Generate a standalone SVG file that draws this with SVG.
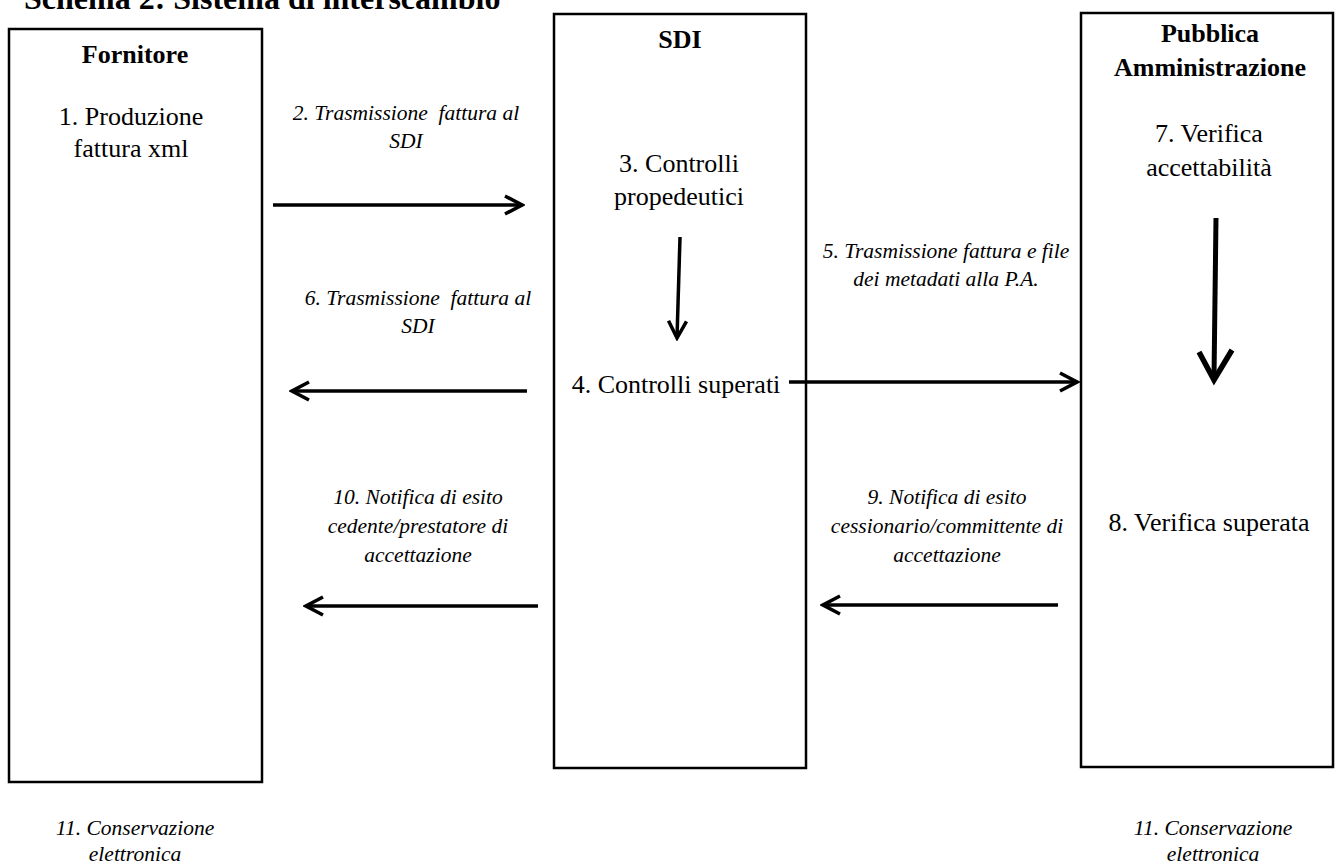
<svg xmlns="http://www.w3.org/2000/svg" width="1340" height="865" viewBox="0 0 1340 865">
<style>
  .box{fill:#fff;stroke:#000;stroke-width:2.5}
  .t{font-family:"Liberation Serif","Times New Roman",serif;fill:#000;text-anchor:middle}
  .b{font-weight:bold;font-size:26px}
  .r{font-size:26px}
  .i{font-style:italic;font-size:21.5px}
  .ln{stroke:#000;stroke-width:3.5;fill:none}
</style>
<defs>
  <marker id="chev" viewBox="0 0 22 22" markerWidth="22" markerHeight="22" refX="19" refY="11" orient="auto" markerUnits="userSpaceOnUse">
    <path d="M2,2 L19,11 L2,20" fill="none" stroke="#000" stroke-width="3.5"/>
  </marker>
</defs>
<rect width="1340" height="865" fill="#fff"/>
<text id="title" class="t b" x="24" y="9" style="text-anchor:start;font-size:32px">Schema 2: Sistema di interscambio</text>

<g id="fornitore">
  <rect class="box" x="9" y="29" width="253" height="753"/>
  <text class="t b" x="135" y="63">Fornitore</text>
  <text class="t r" x="131" y="125">1. Produzione</text>
  <text class="t r" x="131" y="157">fattura xml</text>
</g>
<g id="sdi">
  <rect class="box" x="554" y="14" width="252" height="754"/>
  <text class="t b" x="680" y="48">SDI</text>
  <text class="t r" x="679" y="172">3. Controlli</text>
  <text class="t r" x="679" y="205">propedeutici</text>
  <text class="t r" x="676" y="393">4. Controlli superati</text>
</g>
<g id="pa">
  <rect class="box" x="1081" y="13" width="252" height="754"/>
  <text class="t b" x="1210" y="42">Pubblica</text>
  <text class="t b" x="1210" y="76">Amministrazione</text>
  <text class="t r" x="1209" y="142">7. Verifica</text>
  <text class="t r" x="1209" y="176">accettabilità</text>
  <text class="t r" x="1209" y="531">8. Verifica superata</text>
</g>

<g id="labels">
  <text class="t i" x="406" y="120" xml:space="preserve">2. Trasmissione  fattura al</text>
  <text class="t i" x="406" y="148">SDI</text>
  <text class="t i" x="418" y="305" xml:space="preserve">6. Trasmissione  fattura al</text>
  <text class="t i" x="418" y="333">SDI</text>
  <text class="t i" x="418" y="504">10. Notifica di esito</text>
  <text class="t i" x="418" y="533">cedente/prestatore di</text>
  <text class="t i" x="418" y="562">accettazione</text>
  <text class="t i" x="946" y="258">5. Trasmissione fattura e file</text>
  <text class="t i" x="946" y="286">dei metadati alla P.A.</text>
  <text class="t i" x="947" y="504">9. Notifica di esito</text>
  <text class="t i" x="947" y="533">cessionario/committente di</text>
  <text class="t i" x="947" y="562">accettazione</text>
  <text class="t i" x="135" y="835">11. Conservazione</text>
  <text class="t i" x="135" y="861">elettronica</text>
  <text class="t i" x="1213" y="835">11. Conservazione</text>
  <text class="t i" x="1213" y="861">elettronica</text>
</g>

<g id="connectors">
  <line class="ln" x1="273" y1="205" x2="522" y2="205" marker-end="url(#chev)"/>
  <line class="ln" x1="527" y1="391" x2="292" y2="391" marker-end="url(#chev)"/>
  <line class="ln" x1="538" y1="606" x2="306" y2="606" marker-end="url(#chev)"/>
  <line class="ln" x1="680" y1="237" x2="677" y2="338" marker-end="url(#chev)"/>
  <line class="ln" x1="789" y1="382" x2="1077" y2="382" marker-end="url(#chev)"/>
  <line class="ln" x1="1058" y1="605" x2="823" y2="605" marker-end="url(#chev)"/>
  <line x1="1216" y1="218" x2="1214" y2="378" stroke="#000" stroke-width="5"/>
  <path d="M1199,352 L1214,380 L1232,350" fill="none" stroke="#000" stroke-width="5.5"/>
</g>
</svg>
